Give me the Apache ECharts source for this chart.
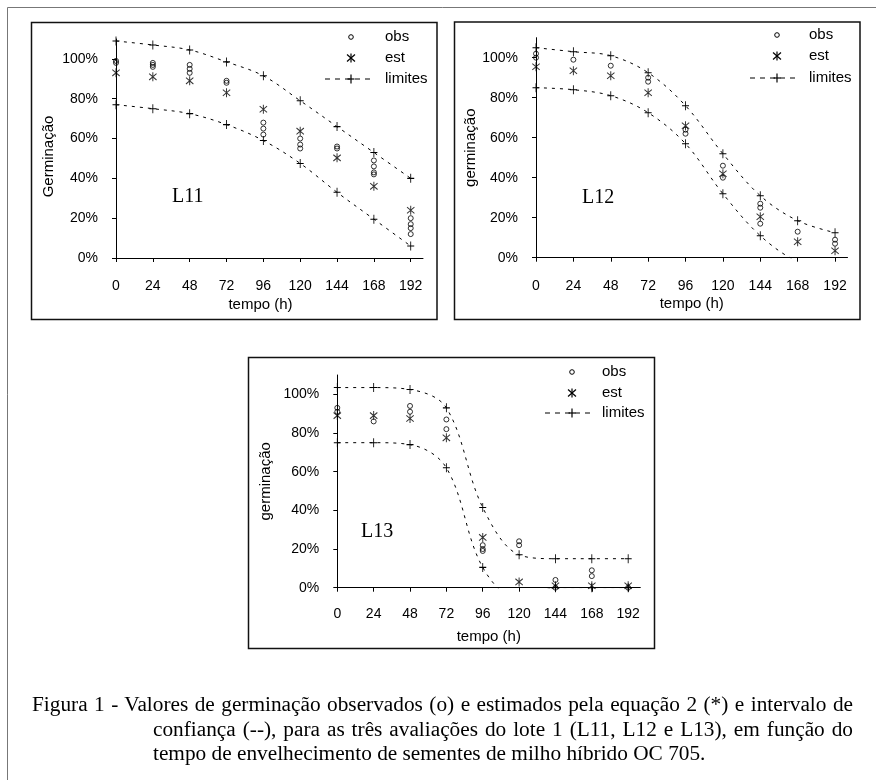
<!DOCTYPE html>
<html>
<head>
<meta charset="utf-8">
<script src="https://cdn.jsdelivr.net/npm/echarts@6/dist/echarts.min.js"></script>
<style>
  body { margin: 0; background: #fff; }
  #chart { position: absolute; left: 0; top: 0; width: 876px; height: 780px; }
  #caption { position: absolute; left: 32px; top: 692px; width: 821px;
    font: 21.3px/24.5px "Liberation Serif", "Times New Roman", serif; color: #000; }
  #caption div { white-space: nowrap; }
  #caption .just { text-align: justify; text-align-last: justify; white-space: normal; }
  #caption .cont { margin-left: 121px; width: 700px; }
</style>
</head>
<body>
<div id="chart"></div>
<div id="caption">
  <div class="just">Figura 1 - Valores de germinação observados (o) e estimados pela equação 2 (*) e intervalo de</div>
  <div class="just cont">confiança (--), para as três avaliações do lote 1 (L11, L12 e L13), em função do</div>
  <div class="cont">tempo de envelhecimento de sementes de milho híbrido OC 705.</div>
</div>
<script>
  // tempo (h)
  var hours = [0, 24, 48, 72, 96, 120, 144, 168, 192]
  var pctTicks = [0, 20, 40, 60, 80, 100]

  // L11
  var obsL11 = [[98, 99], [98, 96, 97], [97, 95, 93], [89, 88], [68, 65, 62], [60, 57, 55], [55, 56], [49, 46, 43, 42], [20, 17, 15, 12]]
  var estL11 = [93, 91, 89, 83, 74.7, 63.7, 50.3, 36, 24]
  var upL11 = [109, 107, 104.5, 98.5, 91.5, 79, 66, 53, 40]
  var loL11 = [77, 75, 72.5, 67, 59, 47.5, 33, 19.5, 6]

  // L12
  var obsL12 = [[100, 102], [99], [96], [90, 88], [62, 64], [46, 40], [27, 25, 17], [13], [9, 7]]
  var estL12 = [95.5, 93.5, 91, 82.5, 66, 42, 20.5, 8, 3.5]
  var upL12 = [105, 103, 101, 92.5, 76, 52, 31, 18.5, 12.5]
  var loL12 = [85, 84, 81, 72.5, 57, 32, 11, -2, -7]

  // L13
  var obsL13 = [[93, 91], [86], [94, 91], [87, 82], [22, 20, 19], [24, 22], [4, 0], [9, 6], [0]]
  var estL13 = [89, 89, 87.5, 77.5, 26, 3, 1, 1, 1]
  var upL13 = [103.5, 103.5, 102.5, 93, 41.5, 17, 15, 15, 15]
  var loL13 = [75, 75, 74, 62, 10.5, -6, 0, 0, 0]

  var STAR = 'path://M4.4,0 H5.6 V10 H4.4 Z M0.87,1.03 L9.87,8.03 L9.13,8.97 L0.13,1.97 Z M9.13,1.03 L9.87,1.97 L0.87,8.97 L0.13,8.03 Z'
  var PLUS = 'path://M4.4,0 H5.6 V4.4 H10 V5.6 H5.6 V10 H4.4 V5.6 H0 V4.4 H4.4 Z'
  var SANS = '"Liberation Sans", Arial, sans-serif'
  var SERIF = '"Liberation Serif", "Times New Roman", serif'

  var panels = [
    { label: 'L11', yName: 'Germinação', obs: obsL11, est: estL11, up: upL11, lo: loL11,
      grid: { left: 116, top: 39, width: 307, height: 219 },
      yNameGap: 60, yNamePad: [0, 16, 0, 0], xNameGap: 39, xNamePad: [0, 18, 0, 0], xMargin: 21,
      labelPos: [172, 197], legend: { mx: 351, tx: 385, ys: [37, 58, 79], lx: [325, 373] } },
    { label: 'L12', yName: 'germinação', obs: obsL12, est: estL12, up: upL12, lo: loL12,
      grid: { left: 536, top: 37.7, width: 311.5, height: 220 },
      yNameGap: 56, yNamePad: [0, 0, 0, 0], xNameGap: 39, xNamePad: [0, 0, 0, 0], xMargin: 21,
      labelPos: [582, 198], legend: { mx: 777, tx: 809, ys: [35, 56, 78], lx: [750, 798] } },
    { label: 'L13', yName: 'germinação', obs: obsL13, est: estL13, up: upL13, lo: loL13,
      grid: { left: 337.3, top: 375, width: 303, height: 212.7 },
      yNameGap: 64, yNamePad: [0, 0, 0, 0], xNameGap: 42, xNamePad: [0, 0, 0, 0], xMargin: 19,
      labelPos: [361, 532], legend: { mx: 572, tx: 602, ys: [372, 393, 413], lx: [545, 593] } }
  ]

  function pairs(vals) {
    return hours.map(function(h, k) { return [h, vals[k]] })
  }
  function obsPairs(reps) {
    var out = []
    hours.forEach(function(h, k) {
      reps[k].forEach(function(v) { out.push([h, v]) })
    })
    return out
  }
  function seg(x1, y1, x2, y2, extra) {
    return Object.assign({ type: 'line', silent: true, shape: { x1: x1, y1: y1, x2: x2, y2: y2 },
      style: { stroke: '#000', lineWidth: 1.2 } }, extra || {})
  }

  var grids = [], xAxes = [], yAxes = [], series = [], graphics = []

  // frames
  graphics.push({ type: 'rect', shape: { x: 7.5, y: 7.5, width: 900, height: 900 },
    style: { fill: 'none', stroke: '#777', lineWidth: 1 }, silent: true })
  graphics.push({ type: 'rect', shape: { x: 31.5, y: 22.5, width: 405.5, height: 297 },
    style: { fill: 'none', stroke: '#111', lineWidth: 1.5 }, silent: true })
  graphics.push({ type: 'rect', shape: { x: 454.5, y: 22, width: 405.5, height: 297.5 },
    style: { fill: 'none', stroke: '#111', lineWidth: 1.5 }, silent: true })
  graphics.push({ type: 'rect', shape: { x: 248.5, y: 357.5, width: 406, height: 291 },
    style: { fill: 'none', stroke: '#111', lineWidth: 1.5 }, silent: true })

  panels.forEach(function(p, i) {
    grids.push(p.grid)
    xAxes.push({
      gridIndex: i, type: 'value', min: 0, max: 200,
      axisLine: { lineStyle: { color: '#000', width: 1 } },
      axisTick: { show: true, customValues: hours, length: 4, lineStyle: { color: '#000' } },
      axisLabel: { customValues: hours, margin: p.xMargin, color: '#000', fontSize: 14, fontFamily: SANS },
      splitLine: { show: false },
      name: 'tempo (h)', nameLocation: 'middle', nameGap: p.xNameGap,
      nameTextStyle: { color: '#000', fontSize: 15, fontFamily: SANS, padding: p.xNamePad }
    })
    yAxes.push({
      gridIndex: i, type: 'value', min: 0, max: 110,
      axisLine: { show: true, lineStyle: { color: '#000', width: 1 } },
      axisTick: { show: true, customValues: pctTicks, length: 4, lineStyle: { color: '#000' } },
      axisLabel: { customValues: pctTicks, formatter: '{value}%', margin: 18, color: '#000', fontSize: 14, fontFamily: SANS },
      splitLine: { show: false },
      name: p.yName, nameLocation: 'middle', nameGap: p.yNameGap, nameRotate: 90,
      nameTextStyle: { color: '#000', fontSize: 15, fontFamily: SANS, padding: p.yNamePad }
    })

    var limStyle = {
      type: 'line', xAxisIndex: i, yAxisIndex: i, smooth: 0.35,
      symbol: PLUS, symbolSize: [7, 9], showSymbol: true,
      itemStyle: { color: '#000' },
      lineStyle: { color: '#000', width: 1, type: [3, 5] },
      silent: true, animation: false
    }
    series.push(Object.assign({ name: 'limites', data: pairs(p.up) }, limStyle))
    series.push(Object.assign({ name: 'limites', data: pairs(p.lo) }, limStyle))
    series.push({
      name: 'est', type: 'scatter', xAxisIndex: i, yAxisIndex: i,
      symbol: STAR, symbolSize: [8, 9], itemStyle: { color: '#000' },
      data: pairs(p.est), silent: true, animation: false
    })
    series.push({
      name: 'obs', type: 'scatter', xAxisIndex: i, yAxisIndex: i,
      symbol: 'circle', symbolSize: 5,
      itemStyle: { color: 'rgba(0,0,0,0)', borderColor: '#000', borderWidth: 1 },
      data: obsPairs(p.obs), silent: true, animation: false
    })

    // panel label
    graphics.push({ type: 'text', x: p.labelPos[0], y: p.labelPos[1], silent: true,
      style: { text: p.label, font: '20px ' + SERIF, fill: '#000', verticalAlign: 'middle' } })

    // legend
    var lg = p.legend
    var mx = lg.mx, y0 = lg.ys[0], y1 = lg.ys[1], y2 = lg.ys[2]
    graphics.push({ type: 'circle', silent: true, shape: { cx: mx, cy: y0, r: 2.3 },
      style: { fill: 'none', stroke: '#000', lineWidth: 1 } })
    graphics.push(seg(mx, y1 - 4.5, mx, y1 + 4.5))
    graphics.push(seg(mx - 4, y1 - 3.5, mx + 4, y1 + 3.5))
    graphics.push(seg(mx + 4, y1 - 3.5, mx - 4, y1 + 3.5))
    graphics.push(seg(lg.lx[0], y2, lg.lx[1], y2, { style: { stroke: '#000', lineWidth: 1, lineDash: [5, 5] } }))
    graphics.push(seg(mx, y2 - 4.5, mx, y2 + 4.5))
    graphics.push(seg(mx - 3.5, y2, mx + 3.5, y2))
    ;['obs', 'est', 'limites'].forEach(function(t, k) {
      graphics.push({ type: 'text', x: lg.tx, y: lg.ys[k], silent: true,
        style: { text: t, font: '15px ' + SANS, fill: '#000', verticalAlign: 'middle' } })
    })
  })

  var chart = echarts.init(document.getElementById('chart'))
  chart.setOption({
    animation: false,
    backgroundColor: '#fff',
    grid: grids,
    xAxis: xAxes,
    yAxis: yAxes,
    series: series,
    graphic: graphics
  })
</script>
</body>
</html>
